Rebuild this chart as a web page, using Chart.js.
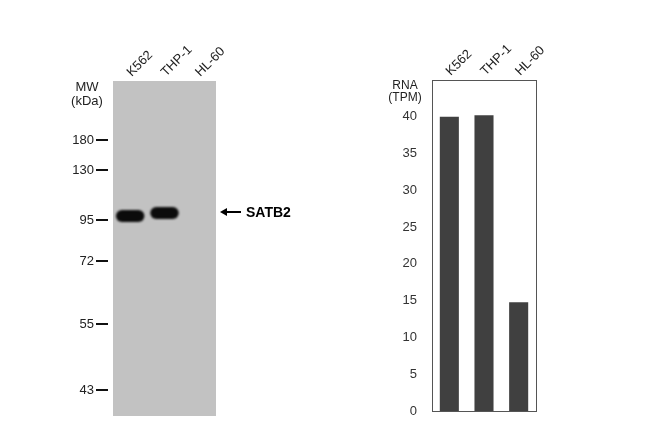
<!DOCTYPE html>
<html>
<head>
<meta charset="utf-8">
<script src="https://cdn.jsdelivr.net/npm/chart.js@4.4.1/dist/chart.umd.min.js"></script>
<style>
    html, body { margin: 0; padding: 0; background: #fff; }
    #blotBox { position: absolute; left: 0; top: 0; width: 300px; height: 422px; }
    #rnaBox { position: absolute; left: 330px; top: 0; width: 320px; height: 422px; }
</style>
</head>
<body>
<div id="blotBox"><canvas id="blotChart"></canvas></div>
<div id="rnaBox"><canvas id="rnaChart"></canvas></div>
<script>
// lanes
const lanes = ['K562', 'THP-1', 'HL-60'];

// western blot: marker sizes and their migration (distance from top of gel)
const markerMW = [180, 130, 95, 72, 55, 43];
const markerPos = [59, 89, 139, 180, 243, 309];
const gelLength = 335;

// SATB2 bands (migration start / end per lane)
const bandStart = [129, 126, null];
const bandEnd = [141, 138, null];
const targetPos = 131;
const targetName = 'SATB2';

// RNA expression (TPM)
const rnaValues = [40.0, 40.2, 14.8];

Chart.defaults.font.family = '"Liberation Sans", Arial, sans-serif';
Chart.defaults.animation = false;

// keep chart area exactly where layout padding and axis sizes put it
const noPad = s => { s.paddingTop = 0; s.paddingBottom = 0; s.paddingLeft = 0; s.paddingRight = 0; };

const blotDecor = {
    id: 'blotDecor',
    beforeDatasetsDraw(chart) {
        const { ctx, chartArea } = chart;
        ctx.save();
        ctx.fillStyle = '#c2c2c2';
        ctx.fillRect(chartArea.left, chartArea.top, chartArea.right - chartArea.left, chartArea.bottom - chartArea.top);
        ctx.restore();
    },
    beforeDatasetDraw(chart) {
        chart.ctx.save();
        chart.ctx.filter = 'blur(1.3px)';
    },
    afterDatasetDraw(chart) {
        chart.ctx.restore();
    },
    afterDraw(chart) {
        const { ctx, chartArea } = chart;
        const y = chart.scales.y;
        ctx.save();
        // marker dashes
        ctx.strokeStyle = '#111';
        ctx.lineWidth = 2;
        markerPos.forEach(p => {
            const py = Math.round(y.getPixelForValue(p));
            ctx.beginPath();
            ctx.moveTo(chartArea.left - 17, py);
            ctx.lineTo(chartArea.left - 5, py);
            ctx.stroke();
        });
        // MW (kDa)
        ctx.fillStyle = '#222';
        ctx.font = '13px "Liberation Sans", Arial, sans-serif';
        ctx.textAlign = 'center';
        ctx.textBaseline = 'middle';
        ctx.fillText('MW', 87, 87);
        ctx.fillText('(kDa)', 87, 101);
        // arrow + target label
        const ty = Math.round(y.getPixelForValue(targetPos));
        const ax = chartArea.right + 4;
        ctx.strokeStyle = '#000';
        ctx.fillStyle = '#000';
        ctx.lineWidth = 2;
        ctx.beginPath();
        ctx.moveTo(ax + 5, ty);
        ctx.lineTo(ax + 21, ty);
        ctx.stroke();
        ctx.beginPath();
        ctx.moveTo(ax, ty);
        ctx.lineTo(ax + 7, ty - 4);
        ctx.lineTo(ax + 7, ty + 4);
        ctx.closePath();
        ctx.fill();
        ctx.font = 'bold 14px "Liberation Sans", Arial, sans-serif';
        ctx.textAlign = 'left';
        ctx.fillText(targetName, ax + 26, ty + 1);
        ctx.restore();
    }
};

new Chart(document.getElementById('blotChart'), {
    type: 'bar',
    data: {
        labels: lanes,
        datasets: [{
            data: bandStart.map((s, i) => s === null ? null : [s, bandEnd[i]]),
            backgroundColor: '#0b0b0b',
            borderRadius: 6,
            borderSkipped: false,
            barPercentage: 0.83,
            categoryPercentage: 1
        }]
    },
    options: {
        responsive: true,
        maintainAspectRatio: false,
        layout: { padding: { top: 0, right: 84, bottom: 6, left: 0 } },
        plugins: { legend: { display: false }, tooltip: { enabled: false } },
        scales: {
            x: {
                position: 'top',
                offset: true,
                grid: { display: false, drawTicks: false },
                border: { display: false },
                ticks: {
                    minRotation: 45,
                    maxRotation: 45,
                    padding: 1,
                    labelOffset: 10,
                    color: '#222',
                    font: { size: 13 }
                },
                afterFit: s => { s.height = 81; noPad(s); }
            },
            y: {
                reverse: true,
                min: 0,
                max: gelLength,
                grid: { display: false, drawTicks: false },
                border: { display: false },
                afterBuildTicks: s => { s.ticks = markerPos.map(v => ({ value: v })); },
                ticks: {
                    padding: 19,
                    color: '#222',
                    font: { size: 13 },
                    callback: (v, i) => markerMW[i]
                },
                afterFit: s => { s.width = 113; noPad(s); }
            }
        }
    },
    plugins: [blotDecor]
});

const rnaDecor = {
    id: 'rnaDecor',
    afterDraw(chart) {
        const { ctx, chartArea } = chart;
        ctx.save();
        ctx.strokeStyle = '#555';
        ctx.lineWidth = 1;
        ctx.strokeRect(Math.round(chartArea.left) + 0.5, Math.round(chartArea.top) + 0.5,
            Math.round(chartArea.right - chartArea.left), Math.round(chartArea.bottom - chartArea.top));
        ctx.fillStyle = '#222';
        ctx.font = '12px "Liberation Sans", Arial, sans-serif';
        ctx.textAlign = 'center';
        ctx.textBaseline = 'middle';
        ctx.fillText('RNA', chartArea.left - 27, 86);
        ctx.fillText('(TPM)', chartArea.left - 27, 98);
        ctx.restore();
    }
};

new Chart(document.getElementById('rnaChart'), {
    type: 'bar',
    data: {
        labels: lanes,
        datasets: [{
            data: rnaValues,
            backgroundColor: '#404040',
            barPercentage: 0.55,
            categoryPercentage: 1
        }]
    },
    options: {
        responsive: true,
        maintainAspectRatio: false,
        layout: { padding: { top: 0, right: 114, bottom: 11, left: 0 } },
        plugins: { legend: { display: false }, tooltip: { enabled: false } },
        scales: {
            x: {
                position: 'top',
                offset: true,
                grid: { display: false, drawTicks: false },
                border: { display: false },
                ticks: {
                    minRotation: 45,
                    maxRotation: 45,
                    padding: 1,
                    labelOffset: 10,
                    color: '#222',
                    font: { size: 13 }
                },
                afterFit: s => { s.height = 80; noPad(s); }
            },
            y: {
                min: 0,
                max: 45,
                grid: { display: false, drawTicks: false },
                border: { display: false },
                ticks: {
                    stepSize: 5,
                    padding: 15,
                    color: '#333',
                    font: { size: 13 }
                },
                afterBuildTicks: s => { s.ticks = s.ticks.filter(t => t.value <= 40); },
                afterFit: s => { s.width = 102; noPad(s); }
            }
        }
    },
    plugins: [rnaDecor]
});
</script>
</body>
</html>
